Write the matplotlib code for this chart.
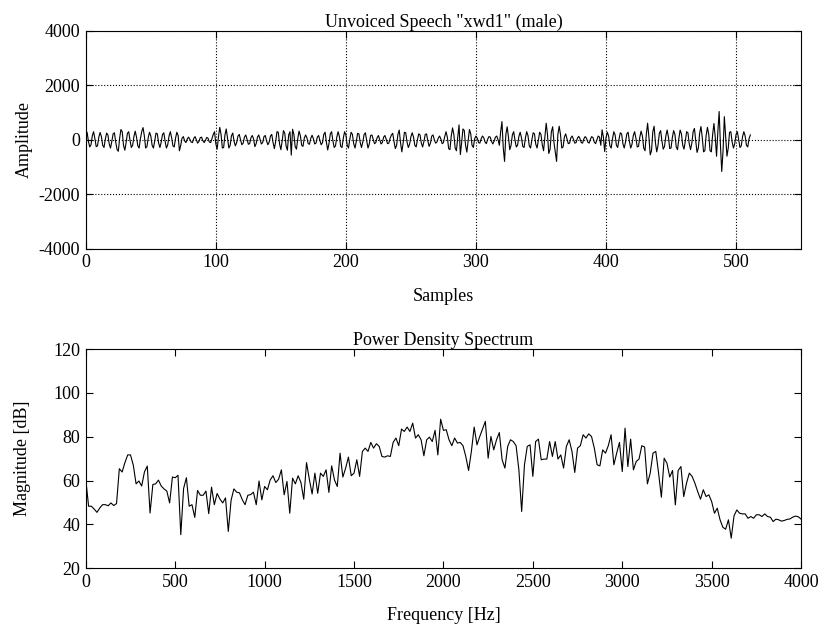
import numpy as np
import matplotlib
matplotlib.use("Agg")
import matplotlib.pyplot as plt

# speech samples (tens of amplitude units)
speech_tens = [
    20, 28, -5, -26, -18, 15, 30, 4, -25, -22, 10, 27, 12, -20, -28, 2,
    25, 18, -15, -30, -6, 22, 26, -8, -35, -42, 5, 38, 30, -20, -38, -10,
    24, 30, -2, -28, -20, 12, 32, 10, -22, -30, 4, 30, 45, 15, -30, -25,
    8, 28, 14, -20, -30, -4, 25, 22, -12, -28, -8, 20, 26, -6, -30, -18,
    14, 30, 8, -22, -26, 6, 28, 16, -40, -20, 6, 12, -4, -10, 3, 10,
    2, -8, -10, 5, 12, 0, -12, -6, 8, 10, -3, -10, -2, 9, 6, -8,
    -10, 4, 20, 30, -15, -34, 10, 46, 20, -30, -28, 18, 40, 6, -30, -20,
    15, 25, -5, -22, -10, 14, 20, 0, -18, -12, 10, 18, 2, -16, -14, 8,
    16, 4, -25, -14, 10, 18, 2, -15, -10, 12, 16, -4, -18, -8, 14, 20,
    -10, -32, -6, 30, 28, -15, -36, -4, 34, 24, -22, -38, 18, 30, -56, 39,
    20, -25, -34, 5, 32, 15, -20, -24, 6, 18, 8, -14, -16, 6, 17, 4,
    -15, -12, 10, 16, -2, -18, -10, 20, 28, -8, -37, -14, 22, 30, -4, -28,
    -22, 10, 30, 12, -24, -28, 6, 30, 18, -20, -30, 2, 28, 20, -14, -30,
    -6, 24, 22, -10, -28, -8, 20, 26, -4, -30, -15, 16, 18, 2, -14, -10,
    8, 16, 0, -15, -10, 10, 16, 2, -14, -12, 6, 18, 24, -6, -32, -20,
    20, 36, -10, -44, -12, 28, 26, -8, -28, -16, 12, 26, 10, -20, -26, 0,
    22, 18, -12, -26, -6, 20, 22, -4, -24, -12, 14, 18, 0, -12, -8, 6,
    14, 4, -14, -10, 12, 30, 10, -32, -36, 14, 44, 20, -30, -40, 10, 55,
    -54, -10, 40, 35, -20, -45, -5, 38, 22, -20, -28, 4, 14, 6, -10, -12,
    4, 14, 8, -8, -14, 2, 12, 10, -6, -15, -4, 10, 14, 0, -20, 30,
    67, -30, -79, 20, 48, 10, -36, -20, 18, 30, 0, -26, -20, 12, 28, 8,
    -24, -28, 6, 30, 16, -22, -30, 0, 26, 22, -16, -30, -2, 28, 20, -18,
    -40, 10, 61, 20, -50, -34, 30, 48, -10, -45, -79, 20, 50, 20, -30, -26,
    10, 22, 4, -14, -12, 8, 14, 2, -12, -10, 6, 13, 4, -10, -12, 4,
    12, 6, -8, -12, 2, 12, 8, -8, -14, 0, 14, 10, -20, 37, 10, -43,
    8, 28, 14, -22, -30, 4, 30, 18, -20, -28, 2, 26, 22, -14, -30, -8,
    22, 28, -6, -30, -16, 16, 30, 6, -26, -24, 10, 32, 14, -30, -40, 20,
    61, 10, -55, -40, 30, 50, -10, -44, -20, 24, 34, -4, -34, -24, 14, 36,
    10, -32, -30, 8, 34, 20, -26, -36, 4, 36, 22, -20, -34, -4, 30, 26,
    -14, -36, -12, 30, 42, -4, -46, -30, 24, 49, 10, -44, -40, 16, 46, 20,
    -40, -44, 20, 60, 10, -60, 30, 104, -20, -116, -40, 85, 10, -60, -30, 28,
    30, -8, -30, -14, 20, 30, 0, -28, -22, 12, 30, 14, -20, -26, 4, 18,
]

# power density spectrum in dB, one value per FFT bin (0..4000 Hz)
spectrum_db = [
    60.5, 48.3, 48.3, 47.0, 45.5, 47.5, 49, 49, 48.5, 49.8, 48.6, 49.5, 65.4, 63.9, 68.2, 71.7,
    71.7, 67, 58.5, 59.8, 57.5, 64, 66.6, 45.2, 58.2, 58.5, 60.2, 57.5, 56.2, 55.2, 49.8, 61.6,
    61.3, 62.4, 35.3, 56.4, 61.3, 48.3, 49, 43.2, 55.5, 53.3, 53.3, 55.2, 44.9, 57, 49, 54.1,
    51.6, 49.8, 52.1, 36.8, 51, 56.2, 54.7, 54.4, 51.3, 49, 53.3, 53.6, 54.7, 49, 59.8,
    51.2, 57.3, 55.8, 60.3, 62.2, 59.1, 60.6, 64.9, 53.5, 59.6, 45.1, 61.1, 58.5, 62.2, 59.1, 51.5,
    68.2, 60.6, 53.9, 63.4, 54.2, 63.4, 61.9, 64.9, 54.6, 66.7, 60.3, 57.3, 72.5, 61.6, 65.7, 70.7,
    62.2, 63.4, 69.5, 61.9, 73.3, 74.8, 73.3, 77.4, 74.8, 76.8, 75.6, 71, 70.7, 71.3, 71, 77.4,
    79.4, 75.9, 83.5, 82.4, 84.4, 82.4, 86.2, 79.4, 80.9, 78.6, 71.3,
    78.6, 79.8, 77.8, 82.9, 71.7, 88, 82.9, 83.2, 78.6, 75.9, 79.4, 77.1, 77.4, 75.9, 71, 64.6,
    73.3, 84.4, 76.3, 80.1, 83.5, 87, 70.2, 80.1, 74, 78.6, 81.9, 69.5, 65.7, 75.6, 78.6, 77.8,
    75.9, 64.9, 45.9, 67.2, 75.6, 76.3, 61.9, 77.8, 78.9, 69.5, 69.8, 69.8, 77.8, 71, 77.8, 69.8,
    71.7, 65.7, 75.6, 78.6, 73.3, 63.7, 74.8, 75.9, 80.9, 79.4, 81.3, 80.1, 74.8, 67.2, 66.7,
    74, 72.5, 75.9, 80.9, 67.2, 72.5, 77.4, 64.1, 83.9, 66.4, 78.9, 64.9, 68.7, 69.8, 75.9, 75.3,
    58.5, 63.4, 72.5, 73.3, 63.4, 52.4, 70.2, 67.9, 61.6, 64.6, 48.9, 64.6, 66.4, 52.7, 58.8, 63.4,
    61.9, 58.8, 55, 51.5, 55.8, 52.7, 53.5, 50.4, 45.1, 47.4, 42.1, 38.7, 37.8, 42.1, 33.7, 43.9,
    46.6, 45.1, 44.8, 44.8, 42.8, 43.6, 42.8, 44.4, 44.4, 43.6, 44.8, 43.6, 43.3, 41.3, 42.4, 42.1,
    41.5, 41.8, 42.3, 42.5, 43.3, 43.8, 43.5, 42.4,
]

speech = np.array(speech_tens) * 10
samples = np.arange(len(speech))
freqs = np.arange(len(spectrum_db)) * 8000 / 512

plt.rcParams['font.family'] = ['Liberation Serif', 'DejaVu Serif']
plt.rcParams['font.size'] = 13
plt.rcParams['axes.unicode_minus'] = False
plt.rcParams['xtick.direction'] = 'in'
plt.rcParams['ytick.direction'] = 'in'
plt.rcParams['xtick.top'] = True
plt.rcParams['ytick.right'] = True

fig = plt.figure(figsize=(8.25, 6.3), dpi=100)
ax1 = fig.add_axes([0.104, 0.605, 0.867, 0.346])
ax2 = fig.add_axes([0.104, 0.098, 0.867, 0.348])

ax1.plot(samples, speech, color='black', lw=0.8)
ax1.set_xlim(0, 550)
ax1.set_ylim(-4000, 4000)
ax1.set_xticks([0, 100, 200, 300, 400, 500])
ax1.set_yticks([-4000, -2000, 0, 2000, 4000])
ax1.grid(True, ls=':', color='black', lw=0.8)
ax1.set_title('Unvoiced Speech "xwd1" (male)', pad=2, fontsize=13)
ax1.set_xlabel('Samples', labelpad=12)
ax1.set_ylabel('Amplitude', labelpad=4)

ax2.plot(freqs, spectrum_db, color='black', lw=0.8)
ax2.set_xlim(0, 4000)
ax2.set_ylim(20, 120)
ax2.set_xticks(np.arange(0, 4001, 500))
ax2.set_yticks([20, 40, 60, 80, 100, 120])
ax2.set_title('Power Density Spectrum', pad=2, fontsize=13)
ax2.set_xlabel('Frequency [Hz]', labelpad=12)
ax2.set_ylabel('Magnitude [dB]', labelpad=16)

for ax in (ax1, ax2):
    ax.tick_params(length=5, width=0.8, pad=4)
    for s in ax.spines.values():
        s.set_linewidth(0.8)

fig.savefig("out.png", dpi=100)
